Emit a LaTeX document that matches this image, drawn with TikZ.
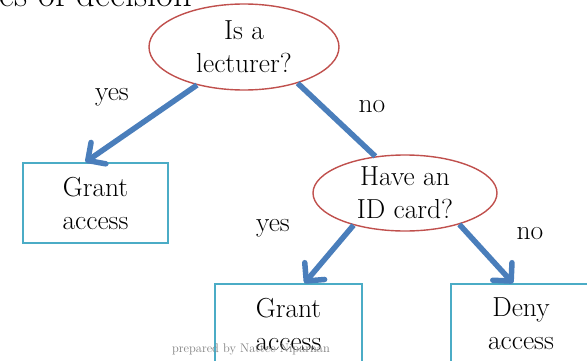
\documentclass[tikz,border=0pt]{standalone}
\usetikzlibrary{shapes.geometric,arrows.meta}
\definecolor{qred}{RGB}{192,80,77}
\definecolor{qblue}{RGB}{74,126,187}
\definecolor{qcyan}{RGB}{75,172,198}
\begin{document}
\begin{tikzpicture}[x=1pt,y=1pt,
  question/.style={ellipse,draw=qred,line width=1.4pt,inner sep=0pt,align=center,
     font=\fontsize{27.5}{33}\selectfont,fill=white},
  leaf/.style={rectangle,draw=qcyan,line width=1.8pt,inner sep=0pt,align=center,
     minimum height=80pt,font=\fontsize{27.5}{33}\selectfont,fill=white},
  edge/.style={draw=qblue,line width=5.5pt},
  arr/.style={edge,-{Straight Barb[length=13pt,width=26pt,round]}},
  lbl/.style={font=\fontsize{27.5}{33}\selectfont,inner sep=0pt}]
\clip (0,0) rectangle (587,360);
\node[anchor=base east,inner sep=0pt,font=\fontsize{36.5}{42}\selectfont] (title) at (192,354) {es of decision};
\node[question,minimum width=190pt,minimum height=86pt] (lect) at (244,313) {Is a\\lecturer?};
\node[question,minimum width=184pt,minimum height=76pt] (idc) at (405,167) {Have an\\ID card?};
\node[leaf,minimum width=145pt] (g1) at (95.5,157) {Grant\\access};
\node[leaf,minimum width=147pt] (g2) at (288.5,36) {Grant\\access};
\node[leaf,minimum width=140pt] (dn) at (521,36) {Deny\\access};
\draw[arr] (lect.219) -- ([xshift=-10pt]g1.north);
\draw[edge] (lect.326) -- (idc.129);
\draw[arr] (idc.212) -- ([xshift=16pt]g2.north);
\draw[arr] (idc.330) -- ([xshift=-8pt]dn.north);
\node[lbl] (y1) at (112,263) {yes};
\node[lbl] (n1) at (372,253) {no};
\node[lbl] (y2) at (273,132) {yes};
\node[lbl] (n2) at (530,126) {no};
\node[anchor=base,inner sep=0pt,text=gray,font=\fontsize{12.5}{15}\selectfont] (foot) at (251,8) {prepared by Nattee Niparnan};
\end{tikzpicture}
\end{document}
